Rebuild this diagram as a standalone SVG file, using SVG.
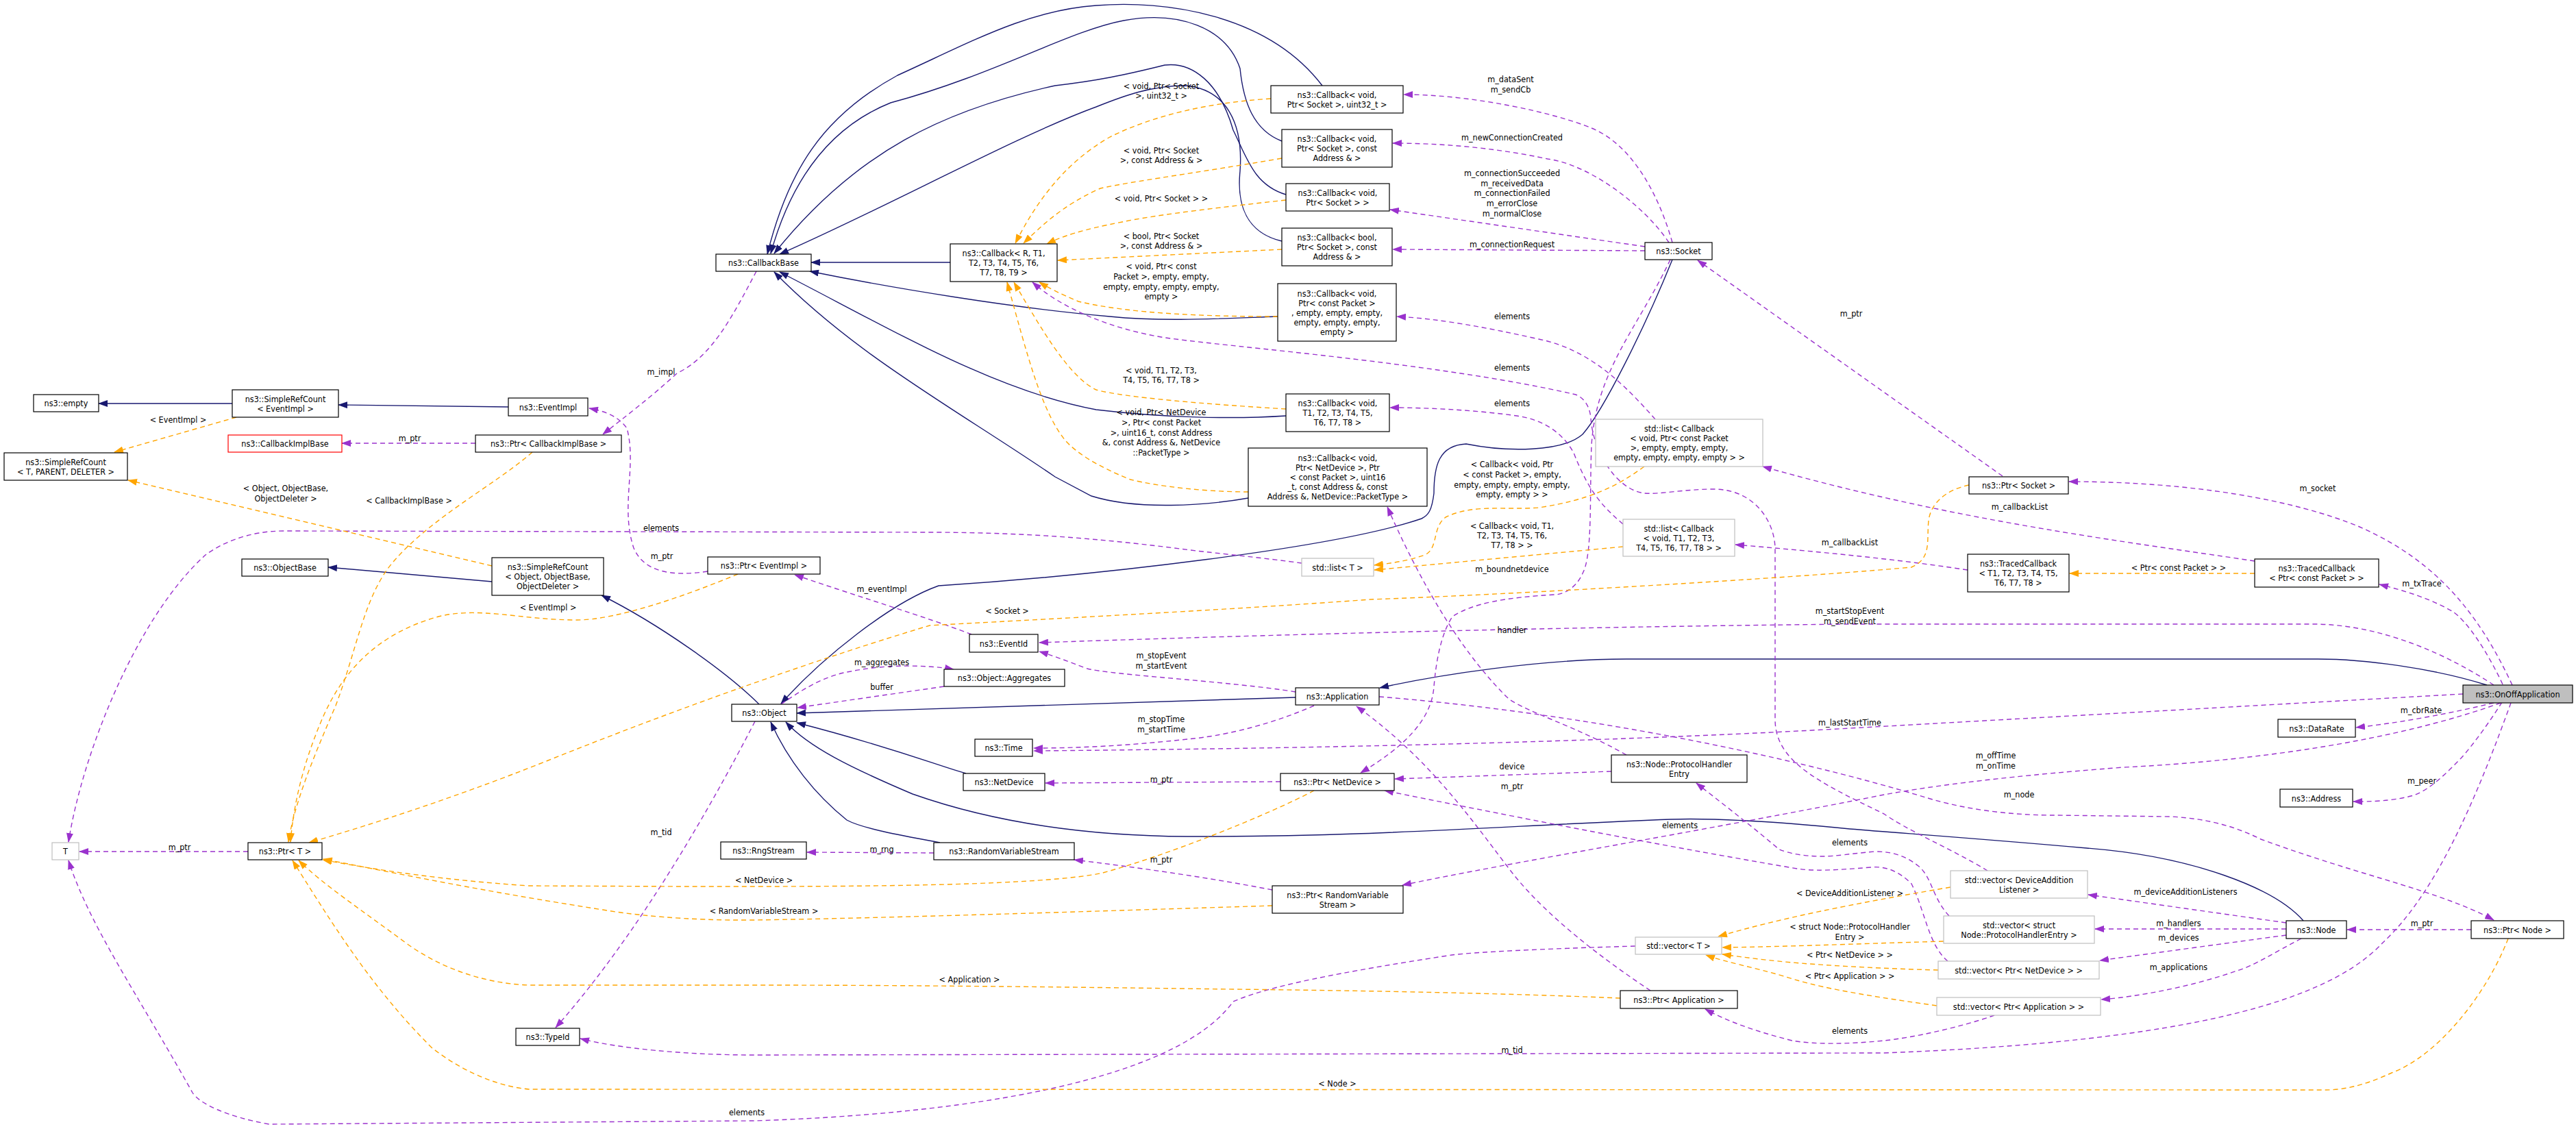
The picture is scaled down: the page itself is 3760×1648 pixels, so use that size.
<svg xmlns="http://www.w3.org/2000/svg" width="3760" height="1648" viewBox="0 0 3760 1648">
<style>
text{font-family:"DejaVu Sans Condensed","DejaVu Sans",sans-serif;font-size:12.5px;fill:#000;text-anchor:middle}
.n rect{fill:#fff;stroke:#000;stroke-width:1.2}
.g rect{fill:#fff;stroke:#bfbfbf;stroke-width:1.2}
.r rect{fill:#fff;stroke:#ff0000;stroke-width:1.2}
.s rect{fill:#bfbfbf;stroke:#000;stroke-width:1.2}
.b{fill:none;stroke:#191970;stroke-width:1.4;marker-end:url(#mb)}
.p{fill:none;stroke:#9a32cd;stroke-width:1.4;stroke-dasharray:7,5;marker-end:url(#mp)}
.o{fill:none;stroke:#ffa500;stroke-width:1.4;stroke-dasharray:7,5;marker-end:url(#mo)}
</style>
<defs>
<marker id="mb" markerWidth="14" markerHeight="10" refX="13" refY="5" orient="auto" markerUnits="userSpaceOnUse"><path d="M0,0 L14,5 L0,10 z" fill="#191970"/></marker>
<marker id="mp" markerWidth="14" markerHeight="10" refX="13" refY="5" orient="auto" markerUnits="userSpaceOnUse"><path d="M0,0 L14,5 L0,10 z" fill="#9a32cd"/></marker>
<marker id="mo" markerWidth="14" markerHeight="10" refX="13" refY="5" orient="auto" markerUnits="userSpaceOnUse"><path d="M0,0 L14,5 L0,10 z" fill="#ffa500"/></marker>
</defs>
<rect width="3760" height="1648" fill="#fff"/>
<g id="edges">
<path class="b" d="M339,589 L144,589"/>
<path class="b" d="M742,594 L494,591"/>
<path class="b" d="M1387,383 L1184,383"/>
<path class="b" d="M1930,125 C1850,20 1700,0 1600,8 C1500,15 1420,60 1310,110 C1200,170 1150,250 1120,371"/>
<path class="b" d="M1871,206 C1830,190 1815,150 1810,100 C1790,40 1720,15 1640,30 C1560,45 1450,110 1300,150 C1200,190 1150,280 1125,370"/>
<path class="b" d="M1877,284 C1830,270 1820,230 1800,190 C1780,120 1740,90 1700,95 C1640,110 1600,118 1540,125 C1380,160 1250,220 1130,370"/>
<path class="b" d="M1871,352 C1820,340 1805,300 1810,250 C1815,180 1790,130 1730,125 C1680,125 1640,140 1600,156 C1480,200 1300,300 1138,371"/>
<path class="b" d="M1865,462 C1780,465 1700,470 1620,462 C1480,450 1300,420 1182,396"/>
<path class="b" d="M1877,607 C1800,612 1700,610 1600,598 C1450,570 1300,480 1138,397"/>
<path class="b" d="M1822,727 C1760,738 1660,745 1593,724 L1540,696 C1400,600 1250,520 1130,397"/>
<path class="b" d="M718,849 L479,828"/>
<path class="b" d="M1108,1028 C1060,980 960,910 878,869"/>
<path class="b" d="M2441,379 C2400,480 2340,600 2310,634 C2280,660 2200,660 2140,648 C2100,650 2093,680 2093,720 C2090,745 2085,752 2075,757 C1950,800 1600,840 1370,855 C1300,880 1200,960 1140,1027"/>
<path class="b" d="M1891,1018 L1163,1041"/>
<path class="b" d="M1410,1129 C1370,1118 1300,1090 1163,1055"/>
<path class="b" d="M1372,1230 C1320,1220 1260,1210 1236,1197 C1190,1160 1150,1110 1125,1054"/>
<path class="b" d="M3362,1344 C3320,1296 3200,1250 3046,1238 C2900,1225 2800,1218 2700,1210 C2600,1200 2500,1194 2438,1196 C2200,1205 2000,1222 1733,1221 C1550,1220 1420,1190 1332,1159 C1240,1120 1180,1090 1147,1054"/>
<path class="b" d="M3630,1000 C3550,975 3450,962 3383,962 L2374,962 C2250,962 2100,985 2014,1004"/>

<path class="p" d="M1104,396 C1070,460 1040,520 988,545 C950,580 910,610 880,634"/>
<path class="p" d="M694,647 L499,647"/>
<path class="p" d="M1033,834 C980,842 940,835 925,800 C905,740 930,680 915,625 C900,605 880,600 860,596"/>
<path class="p" d="M1418,926 C1350,900 1250,870 1160,839"/>
<path class="p" d="M1891,1010 C1800,995 1620,985 1587,976 C1560,966 1540,958 1517,951"/>
<path class="p" d="M3640,1000 C3580,960 3480,911 3376,911 L2700,911 C2300,915 1900,925 1517,938"/>
<path class="p" d="M1140,1028 C1180,1000 1210,985 1242,980 C1290,970 1350,970 1392,977"/>
<path class="p" d="M1378,1002 L1164,1033"/>
<path class="p" d="M1918,1030 C1850,1060 1780,1075 1733,1079 C1650,1088 1580,1092 1509,1092"/>
<path class="p" d="M3595,1013 L2700,1063 C2400,1080 2000,1092 1509,1096"/>
<path class="p" d="M1869,1141 L1526,1143"/>
<path class="p" d="M1363,1245 L1178,1244"/>
<path class="p" d="M1857,1299 C1760,1280 1650,1265 1568,1255"/>
<path class="p" d="M1102,1053 C1000,1250 900,1400 811,1500"/>
<path class="p" d="M3665,1026 C3620,1150 3560,1300 3478,1376 C3400,1460 3200,1520 2750,1537 L1100,1540 C1000,1540 900,1530 847,1516"/>
<path class="p" d="M2387,1381 C2250,1385 2150,1390 2119,1394 C1950,1420 1850,1440 1800,1462 C1700,1600 1300,1630 1100,1636 L393,1641 C330,1630 290,1610 281,1595 C200,1450 130,1350 100,1256"/>
<path class="p" d="M1900,822 C1850,815 1780,808 1746,804 C1600,785 1500,778 1370,777 L414,775 C360,775 320,795 300,810 C200,900 120,1100 100,1229"/>
<path class="p" d="M2441,354 C2420,280 2380,210 2323,187 C2270,165 2150,138 2049,138"/>
<path class="p" d="M2436,354 C2400,300 2320,240 2259,232 C2180,215 2100,209 2033,209"/>
<path class="p" d="M2401,360 L2029,306"/>
<path class="p" d="M2401,366 L2033,364"/>
<path class="p" d="M2416,612 C2370,560 2320,510 2246,495 C2170,478 2100,465 2039,462"/>
<path class="p" d="M2901,1271 C2850,1240 2780,1210 2750,1188 C2650,1140 2591,1110 2591,1050 L2591,800 C2590,760 2560,714 2501,714 C2460,714 2420,722 2400,720 C2360,715 2325,660 2322,610 C2320,590 2310,580 2300,576 C2100,530 1800,507 1701,493 C1620,480 1550,450 1507,412"/>
<path class="p" d="M2369,765 C2340,740 2320,720 2297,661 C2280,630 2250,612 2214,607 C2150,598 2080,595 2029,595"/>
<path class="p" d="M2374,1102 C2300,1060 2230,1040 2202,1020 C2120,940 2060,820 2025,740"/>
<path class="p" d="M2438,379 C2390,480 2330,540 2323,650 C2320,720 2325,810 2310,837 C2300,860 2280,868 2269,868 C2200,872 2150,880 2120,900 C2100,930 2095,980 2093,1002 C2090,1050 2050,1090 1986,1128"/>
<path class="p" d="M2352,1126 L2036,1137"/>
<path class="p" d="M2843,1403 C2815,1380 2810,1330 2790,1290 C2770,1270 2750,1264 2731,1266 C2680,1270 2650,1272 2623,1268 C2400,1230 2200,1190 2021,1154"/>
<path class="p" d="M2845,1337 C2820,1310 2820,1280 2800,1264 C2780,1248 2760,1243 2737,1243 C2700,1246 2680,1250 2661,1250 C2630,1250 2610,1245 2597,1240 C2550,1200 2510,1170 2476,1143"/>
<path class="p" d="M3650,1026 C3500,1080 3300,1110 3100,1120 C2900,1135 2800,1151 2750,1160 C2500,1210 2200,1260 2047,1292"/>
<path class="p" d="M2013,1017 C2300,1040 2600,1100 2814,1165 C2880,1185 2950,1190 3000,1190 L3169,1192 C3220,1195 3260,1205 3300,1225 C3450,1280 3560,1300 3640,1343"/>
<path class="p" d="M2923,695 L2478,380"/>
<path class="p" d="M3667,1000 C3620,900 3560,820 3444,769 C3350,730 3200,703 3020,703"/>
<path class="p" d="M3291,819 C3100,790 2850,760 2573,681"/>
<path class="p" d="M2872,832 C2760,815 2650,805 2533,795"/>
<path class="p" d="M3653,999 C3630,950 3600,905 3579,892 C3540,870 3500,860 3473,853"/>
<path class="p" d="M3640,1026 C3560,1045 3500,1055 3439,1062"/>
<path class="p" d="M3652,1025 C3630,1060 3600,1100 3587,1112 C3560,1140 3540,1155 3523,1161 C3490,1170 3460,1170 3435,1170"/>
<path class="p" d="M3337,1347 L3048,1306"/>
<path class="p" d="M3337,1356 L3058,1356"/>
<path class="p" d="M3337,1365 L3065,1402"/>
<path class="p" d="M3359,1370 C3320,1390 3290,1410 3265,1417 C3200,1440 3120,1455 3067,1459"/>
<path class="p" d="M3607,1357 L3426,1357"/>
<path class="p" d="M2409,1446 C2340,1400 2260,1340 2208,1275 C2150,1200 2090,1110 1980,1031"/>
<path class="p" d="M2911,1482 C2860,1500 2790,1515 2750,1519 C2700,1524 2650,1525 2616,1519 C2560,1505 2520,1490 2489,1473"/>
<path class="p" d="M362,1243 L116,1243"/>

<path class="o" d="M345,609 L167,660"/>
<path class="o" d="M718,826 L187,701"/>
<path class="o" d="M777,660 C720,710 620,760 566,830 C530,880 520,950 490,1030 C460,1100 430,1170 421,1229"/>
<path class="o" d="M1077,838 C1000,870 900,905 842,905 C760,905 700,885 640,900 C550,925 500,980 470,1050 C440,1120 428,1180 424,1229"/>
<path class="o" d="M2874,708 C2840,715 2818,735 2815,760 C2812,790 2820,815 2790,828 C2600,845 2200,868 2000,875 C1800,890 1500,905 1357,913 C1200,960 1000,1030 800,1110 C650,1170 520,1210 451,1230"/>
<path class="o" d="M1918,1154 C1850,1190 1700,1250 1606,1275 C1500,1295 1200,1294 1000,1294 L772,1293 C650,1285 550,1270 471,1255"/>
<path class="o" d="M1857,1322 C1600,1330 1300,1340 1100,1343 C1000,1344 920,1335 880,1328 C700,1300 580,1275 472,1254"/>
<path class="o" d="M2365,1457 C2200,1450 2000,1446 1800,1444 C1500,1440 1300,1438 1100,1438 L771,1438 C700,1435 640,1410 596,1379 C530,1330 470,1290 436,1256"/>
<path class="o" d="M3661,1370 C3630,1450 3560,1540 3491,1566 C3450,1585 3420,1591 3394,1591 L772,1590 C720,1585 670,1560 631,1530 C540,1440 480,1340 427,1256"/>
<path class="o" d="M1855,144 C1760,150 1680,170 1620,200 C1550,240 1510,300 1482,355"/>
<path class="o" d="M1871,231 C1750,252 1650,265 1606,275 C1550,300 1520,330 1494,355"/>
<path class="o" d="M1877,292 C1760,305 1680,315 1638,324 C1580,335 1550,345 1528,356"/>
<path class="o" d="M1871,364 L1544,380"/>
<path class="o" d="M1865,462 C1760,462 1650,458 1574,440 C1550,430 1530,420 1517,412"/>
<path class="o" d="M1877,597 C1760,590 1640,580 1600,569 C1560,550 1520,480 1480,412"/>
<path class="o" d="M1822,718 C1760,718 1690,710 1650,700 C1600,680 1570,660 1555,643 C1520,600 1500,520 1470,412"/>
<path class="o" d="M2400,681 C2360,710 2320,730 2246,741 C2200,745 2150,735 2110,755 C2090,770 2100,800 2080,810 C2050,820 2030,822 2006,825"/>
<path class="o" d="M2369,798 L2006,832"/>
<path class="o" d="M3291,837 L3021,837"/>
<path class="o" d="M2847,1295 C2700,1320 2600,1340 2508,1367"/>
<path class="o" d="M2837,1374 C2700,1378 2600,1382 2514,1383"/>
<path class="o" d="M2829,1416 C2750,1414 2680,1410 2628,1406 C2580,1402 2550,1398 2514,1393"/>
<path class="o" d="M2827,1468 C2700,1450 2650,1440 2604,1425 C2560,1412 2520,1405 2490,1394"/>

<text x="965" y="547">m_impl</text>
<text x="598" y="644">m_ptr</text>
<text x="966" y="816">m_ptr</text>
<text x="1287" y="864">m_eventImpl</text>
<text x="1695" y="961">m_stopEvent</text>
<text x="1695" y="976">m_startEvent</text>
<text x="2700" y="896">m_startStopEvent</text>
<text x="2700" y="911">m_sendEvent</text>
<text x="1287" y="971">m_aggregates</text>
<text x="1287" y="1007">buffer</text>
<text x="1695" y="1054">m_stopTime</text>
<text x="1695" y="1069">m_startTime</text>
<text x="2700" y="1059">m_lastStartTime</text>
<text x="1695" y="1142">m_ptr</text>
<text x="1287" y="1244">m_rng</text>
<text x="1695" y="1259">m_ptr</text>
<text x="965" y="1219">m_tid</text>
<text x="2207" y="1537">m_tid</text>
<text x="1090" y="1628">elements</text>
<text x="965" y="775">elements</text>
<text x="2205" y="120">m_dataSent</text>
<text x="2205" y="135">m_sendCb</text>
<text x="2207" y="205">m_newConnectionCreated</text>
<text x="2207" y="257">m_connectionSucceeded</text>
<text x="2207" y="272">m_receivedData</text>
<text x="2207" y="286">m_connectionFailed</text>
<text x="2207" y="301">m_errorClose</text>
<text x="2207" y="316">m_normalClose</text>
<text x="2207" y="361">m_connectionRequest</text>
<text x="2207" y="466">elements</text>
<text x="2207" y="541">elements</text>
<text x="2207" y="593">elements</text>
<text x="2207" y="924">handler</text>
<text x="2207" y="835">m_boundnetdevice</text>
<text x="2207" y="1123">device</text>
<text x="2207" y="1152">m_ptr</text>
<text x="2452" y="1209">elements</text>
<text x="2700" y="1234">elements</text>
<text x="2700" y="1509">elements</text>
<text x="2913" y="1107">m_offTime</text>
<text x="2913" y="1122">m_onTime</text>
<text x="2947" y="1164">m_node</text>
<text x="2702" y="462">m_ptr</text>
<text x="3383" y="717">m_socket</text>
<text x="2948" y="744">m_callbackList</text>
<text x="2700" y="796">m_callbackList</text>
<text x="3535" y="856">m_txTrace</text>
<text x="3534" y="1041">m_cbrRate</text>
<text x="3535" y="1144">m_peer</text>
<text x="3190" y="1306">m_deviceAdditionListeners</text>
<text x="3180" y="1352">m_handlers</text>
<text x="3180" y="1373">m_devices</text>
<text x="3180" y="1416">m_applications</text>
<text x="3535" y="1352">m_ptr</text>
<text x="262" y="1241">m_ptr</text>

<text x="260" y="617">&lt; EventImpl &gt;</text>
<text x="417" y="717">&lt; Object, ObjectBase,</text>
<text x="417" y="732">ObjectDeleter &gt;</text>
<text x="597" y="735">&lt; CallbackImplBase &gt;</text>
<text x="800" y="891">&lt; EventImpl &gt;</text>
<text x="1470" y="896">&lt; Socket &gt;</text>
<text x="1115" y="1289">&lt; NetDevice &gt;</text>
<text x="1115" y="1334">&lt; RandomVariableStream &gt;</text>
<text x="1415" y="1434">&lt; Application &gt;</text>
<text x="1952" y="1586">&lt; Node &gt;</text>
<text x="1695" y="130">&lt; void, Ptr&lt; Socket</text>
<text x="1695" y="144">&gt;, uint32_t &gt;</text>
<text x="1695" y="224">&lt; void, Ptr&lt; Socket</text>
<text x="1695" y="238">&gt;, const Address &amp; &gt;</text>
<text x="1695" y="294">&lt; void, Ptr&lt; Socket &gt; &gt;</text>
<text x="1695" y="349">&lt; bool, Ptr&lt; Socket</text>
<text x="1695" y="363">&gt;, const Address &amp; &gt;</text>
<text x="1695" y="393">&lt; void, Ptr&lt; const</text>
<text x="1695" y="408">Packet &gt;, empty, empty,</text>
<text x="1695" y="423">empty, empty, empty, empty,</text>
<text x="1695" y="437">empty &gt;</text>
<text x="1695" y="545">&lt; void, T1, T2, T3,</text>
<text x="1695" y="559">T4, T5, T6, T7, T8 &gt;</text>
<text x="1695" y="606">&lt; void, Ptr&lt; NetDevice</text>
<text x="1695" y="621">&gt;, Ptr&lt; const Packet</text>
<text x="1695" y="636">&gt;, uint16_t, const Address</text>
<text x="1695" y="650">&amp;, const Address &amp;, NetDevice</text>
<text x="1695" y="665">::PacketType &gt;</text>
<text x="2207" y="682">&lt; Callback&lt; void, Ptr</text>
<text x="2207" y="697">&lt; const Packet &gt;, empty,</text>
<text x="2207" y="712">empty, empty, empty, empty,</text>
<text x="2207" y="726">empty, empty &gt; &gt;</text>
<text x="2207" y="772">&lt; Callback&lt; void, T1,</text>
<text x="2207" y="786">T2, T3, T4, T5, T6,</text>
<text x="2207" y="800">T7, T8 &gt; &gt;</text>
<text x="3180" y="833">&lt; Ptr&lt; const Packet &gt; &gt;</text>
<text x="2700" y="1308">&lt; DeviceAdditionListener &gt;</text>
<text x="2700" y="1357">&lt; struct Node::ProtocolHandler</text>
<text x="2700" y="1372">Entry &gt;</text>
<text x="2700" y="1398">&lt; Ptr&lt; NetDevice &gt; &gt;</text>
<text x="2700" y="1429">&lt; Ptr&lt; Application &gt; &gt;</text>
</g>

<g id="n1" class="n"><rect x="1045" y="371" width="139" height="25"/><text x="1114.5" y="388">ns3::CallbackBase</text></g>
<g id="n2" class="n"><rect x="49" y="576" width="95" height="25"/><text x="96.5" y="593">ns3::empty</text></g>
<g id="n3" class="n"><rect x="339" y="569" width="155" height="40"/><text x="416.5" y="586.5">ns3::SimpleRefCount</text><text x="416.5" y="600.5">&lt; EventImpl &gt;</text></g>
<g id="n4" class="n"><rect x="742" y="581" width="116" height="26"/><text x="800" y="598.5">ns3::EventImpl</text></g>
<g id="n5" class="r"><rect x="333" y="635" width="166" height="25"/><text x="416" y="652">ns3::CallbackImplBase</text></g>
<g id="n6" class="n"><rect x="694" y="635" width="213" height="25"/><text x="800.5" y="652">ns3::Ptr&lt; CallbackImplBase &gt;</text></g>
<g id="n7" class="n"><rect x="6" y="661" width="180" height="40"/><text x="96" y="678.5">ns3::SimpleRefCount</text><text x="96" y="692.5">&lt; T, PARENT, DELETER &gt;</text></g>
<g id="n8" class="n"><rect x="353" y="816" width="126" height="25"/><text x="416" y="833">ns3::ObjectBase</text></g>
<g id="n9" class="n"><rect x="718" y="814" width="163" height="55"/><text x="799.5" y="832">ns3::SimpleRefCount</text><text x="799.5" y="846">&lt; Object, ObjectBase,</text><text x="799.5" y="860">ObjectDeleter &gt;</text></g>
<g id="n10" class="g"><rect x="76" y="1230" width="39" height="25"/><text x="95.5" y="1247">T</text></g>
<g id="n11" class="n"><rect x="362" y="1230" width="108" height="25"/><text x="416" y="1247">ns3::Ptr&lt; T &gt;</text></g>
<g id="n12" class="n"><rect x="753" y="1501" width="93" height="25"/><text x="799.5" y="1518">ns3::TypeId</text></g>
<g id="n13" class="n"><rect x="1033" y="813" width="164" height="25"/><text x="1115" y="830">ns3::Ptr&lt; EventImpl &gt;</text></g>
<g id="n14" class="n"><rect x="1415" y="926" width="100" height="26"/><text x="1465" y="943.5">ns3::EventId</text></g>
<g id="n15" class="n"><rect x="1378" y="977" width="176" height="25"/><text x="1466" y="994">ns3::Object::Aggregates</text></g>
<g id="n16" class="n"><rect x="1068" y="1028" width="95" height="25"/><text x="1115.5" y="1045">ns3::Object</text></g>
<g id="n17" class="n"><rect x="1423" y="1079" width="84" height="25"/><text x="1465" y="1096">ns3::Time</text></g>
<g id="n18" class="n"><rect x="1406" y="1129" width="119" height="25"/><text x="1465.5" y="1146">ns3::NetDevice</text></g>
<g id="n19" class="n"><rect x="1052" y="1229" width="125" height="25"/><text x="1114.5" y="1246">ns3::RngStream</text></g>
<g id="n20" class="n"><rect x="1363" y="1230" width="205" height="25"/><text x="1465.5" y="1247">ns3::RandomVariableStream</text></g>
<g id="n21" class="n"><rect x="1387" y="356" width="156" height="55"/><text x="1465" y="374">ns3::Callback&lt; R, T1,</text><text x="1465" y="388">T2, T3, T4, T5, T6,</text><text x="1465" y="402">T7, T8, T9 &gt;</text></g>
<g id="n22" class="n"><rect x="1855" y="125" width="193" height="40"/><text x="1951.5" y="142.5">ns3::Callback&lt; void,</text><text x="1951.5" y="156.5">Ptr&lt; Socket &gt;, uint32_t &gt;</text></g>
<g id="n23" class="n"><rect x="1871" y="189" width="161" height="55"/><text x="1951.5" y="207">ns3::Callback&lt; void,</text><text x="1951.5" y="221">Ptr&lt; Socket &gt;, const</text><text x="1951.5" y="235">Address &amp; &gt;</text></g>
<g id="n24" class="n"><rect x="1877" y="268" width="151" height="40"/><text x="1952.5" y="285.5">ns3::Callback&lt; void,</text><text x="1952.5" y="299.5">Ptr&lt; Socket &gt; &gt;</text></g>
<g id="n25" class="n"><rect x="1871" y="333" width="161" height="55"/><text x="1951.5" y="351">ns3::Callback&lt; bool,</text><text x="1951.5" y="365">Ptr&lt; Socket &gt;, const</text><text x="1951.5" y="379">Address &amp; &gt;</text></g>
<g id="n26" class="n"><rect x="1865" y="414" width="173" height="84"/><text x="1951.5" y="432.5">ns3::Callback&lt; void,</text><text x="1951.5" y="446.5">Ptr&lt; const Packet &gt;</text><text x="1951.5" y="460.5">, empty, empty, empty,</text><text x="1951.5" y="474.5">empty, empty, empty,</text><text x="1951.5" y="488.5">empty &gt;</text></g>
<g id="n27" class="n"><rect x="1877" y="575" width="151" height="55"/><text x="1952.5" y="593">ns3::Callback&lt; void,</text><text x="1952.5" y="607">T1, T2, T3, T4, T5,</text><text x="1952.5" y="621">T6, T7, T8 &gt;</text></g>
<g id="n28" class="n"><rect x="1822" y="654" width="261" height="85"/><text x="1952.5" y="673">ns3::Callback&lt; void,</text><text x="1952.5" y="687">Ptr&lt; NetDevice &gt;, Ptr</text><text x="1952.5" y="701">&lt; const Packet &gt;, uint16</text><text x="1952.5" y="715">_t, const Address &amp;, const</text><text x="1952.5" y="729">Address &amp;, NetDevice::PacketType &gt;</text></g>
<g id="n29" class="n"><rect x="2401" y="354" width="98" height="25"/><text x="2450" y="371">ns3::Socket</text></g>
<g id="n30" class="g"><rect x="2329" y="612" width="244" height="69"/><text x="2451" y="630">std::list&lt; Callback</text><text x="2451" y="644">&lt; void, Ptr&lt; const Packet</text><text x="2451" y="658">&gt;, empty, empty, empty,</text><text x="2451" y="672">empty, empty, empty, empty &gt; &gt;</text></g>
<g id="n31" class="g"><rect x="2369" y="758" width="163" height="54"/><text x="2450.5" y="775.5">std::list&lt; Callback</text><text x="2450.5" y="789.5">&lt; void, T1, T2, T3,</text><text x="2450.5" y="803.5">T4, T5, T6, T7, T8 &gt; &gt;</text></g>
<g id="n32" class="g"><rect x="1900" y="815" width="105" height="26"/><text x="1952.5" y="832.5">std::list&lt; T &gt;</text></g>
<g id="n33" class="n"><rect x="1891" y="1004" width="122" height="25"/><text x="1952" y="1021">ns3::Application</text></g>
<g id="n34" class="n"><rect x="1869" y="1129" width="166" height="25"/><text x="1952" y="1146">ns3::Ptr&lt; NetDevice &gt;</text></g>
<g id="n35" class="n"><rect x="2352" y="1102" width="198" height="40"/><text x="2451" y="1119.5">ns3::Node::ProtocolHandler</text><text x="2451" y="1133.5">Entry</text></g>
<g id="n36" class="n"><rect x="1857" y="1293" width="191" height="40"/><text x="1952.5" y="1310.5">ns3::Ptr&lt; RandomVariable</text><text x="1952.5" y="1324.5">Stream &gt;</text></g>
<g id="n37" class="g"><rect x="2387" y="1368" width="126" height="25"/><text x="2450" y="1385">std::vector&lt; T &gt;</text></g>
<g id="n38" class="n"><rect x="2365" y="1446" width="171" height="26"/><text x="2450.5" y="1463.5">ns3::Ptr&lt; Application &gt;</text></g>
<g id="n39" class="n"><rect x="2874" y="696" width="145" height="25"/><text x="2946.5" y="713">ns3::Ptr&lt; Socket &gt;</text></g>
<g id="n40" class="n"><rect x="2872" y="809" width="148" height="55"/><text x="2946" y="827">ns3::TracedCallback</text><text x="2946" y="841">&lt; T1, T2, T3, T4, T5,</text><text x="2946" y="855">T6, T7, T8 &gt;</text></g>
<g id="n41" class="n"><rect x="3291" y="816" width="181" height="41"/><text x="3381.5" y="834">ns3::TracedCallback</text><text x="3381.5" y="848">&lt; Ptr&lt; const Packet &gt; &gt;</text></g>
<g id="n42" class="s"><rect x="3595" y="1000" width="160" height="26"/><text x="3675" y="1017.5">ns3::OnOffApplication</text></g>
<g id="n43" class="n"><rect x="3325" y="1050" width="113" height="26"/><text x="3381.5" y="1067.5">ns3::DataRate</text></g>
<g id="n44" class="n"><rect x="3328" y="1152" width="106" height="26"/><text x="3381" y="1169.5">ns3::Address</text></g>
<g id="n45" class="g"><rect x="2847" y="1271" width="200" height="40"/><text x="2947" y="1288.5">std::vector&lt; DeviceAddition</text><text x="2947" y="1302.5">Listener &gt;</text></g>
<g id="n46" class="g"><rect x="2837" y="1337" width="220" height="40"/><text x="2947" y="1354.5">std::vector&lt; struct</text><text x="2947" y="1368.5">Node::ProtocolHandlerEntry &gt;</text></g>
<g id="n47" class="g"><rect x="2829" y="1403" width="235" height="26"/><text x="2946.5" y="1420.5">std::vector&lt; Ptr&lt; NetDevice &gt; &gt;</text></g>
<g id="n48" class="g"><rect x="2827" y="1456" width="239" height="26"/><text x="2946.5" y="1473.5">std::vector&lt; Ptr&lt; Application &gt; &gt;</text></g>
<g id="n49" class="n"><rect x="3337" y="1344" width="88" height="26"/><text x="3381" y="1361.5">ns3::Node</text></g>
<g id="n50" class="n"><rect x="3607" y="1344" width="135" height="26"/><text x="3674.5" y="1361.5">ns3::Ptr&lt; Node &gt;</text></g>
</svg>
